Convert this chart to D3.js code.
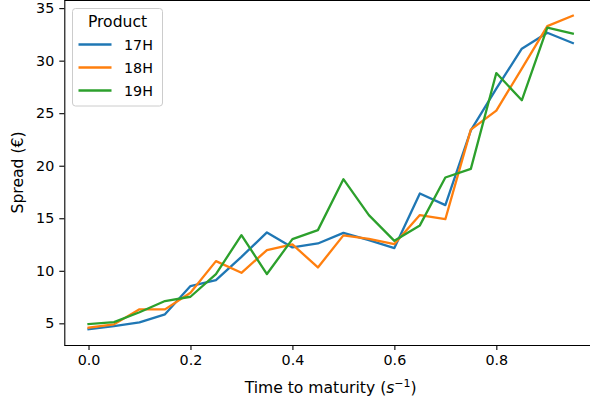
<!DOCTYPE html>
<html>
<head>
<meta charset="utf-8">
<script src="https://cdn.jsdelivr.net/npm/d3@7"></script>
<style>
  body { margin: 0; background: #fff; }
  text { font-family: "DejaVu Sans", sans-serif; }
</style>
</head>
<body>
<script>
var maturity = [0, 0.05, 0.1, 0.15, 0.2, 0.25, 0.3, 0.35, 0.4, 0.45,
                0.5, 0.55, 0.6, 0.65, 0.7, 0.75, 0.8, 0.85, 0.9, 0.95];
var products = ["17H", "18H", "19H"];
var spread17H = [4.43, 4.74, 5.09, 5.86, 8.55, 9.12, 11.33, 13.65, 12.22, 12.6,
                 13.61, 12.92, 12.16, 17.36, 16.25, 23.37, 27.33, 31.14, 32.66, 31.67];
var spread18H = [4.58, 4.9, 6.33, 6.33, 7.91, 10.92, 9.81, 11.97, 12.51, 10.32,
                 13.37, 13.04, 12.54, 15.3, 14.91, 23.44, 25.25, 29.24, 33.29, 34.28];
var spread19H = [4.93, 5.12, 6.05, 7.12, 7.53, 9.69, 13.39, 9.69, 13.01, 13.87,
                 18.72, 15.3, 12.85, 14.32, 18.88, 19.7, 28.82, 26.23, 33.14, 32.57];
var xTicks = [0, 0.2, 0.4, 0.6, 0.8];
var yTicks = [5, 10, 15, 20, 25, 30, 35];
var colors = ["#1f77b4", "#ff7f0e", "#2ca02c"];

var series = [spread17H, spread18H, spread19H];
var W = 590, H = 404;
var mLeft = 64.3, mRight = 597, mTop = 0, mBottom = 345;
var tickFont = "14.3px", labelFont = "15.6px";

var svg = d3.select(document.body).append("svg")
  .attr("width", W).attr("height", H);

var xmin = d3.min(maturity), xmax = d3.max(maturity);
var xm = (xmax - xmin) * 0.05;
var all = spread17H.concat(spread18H, spread19H);
var ymin = d3.min(all), ymax = d3.max(all);
var ym = (ymax - ymin) * 0.05;

var x = d3.scaleLinear().domain([xmin - xm, xmax + xm]).range([mLeft, mRight]);
var y = d3.scaleLinear().domain([ymin - ym, ymax + ym]).range([mBottom, mTop]);

var line = d3.line()
  .x(function(d, i) { return x(maturity[i]); })
  .y(function(d) { return y(d); });

svg.selectAll("path.series")
  .data(series)
  .enter().append("path")
  .attr("class", "series")
  .attr("d", line)
  .attr("fill", "none")
  .attr("stroke", function(d, i) { return colors[i]; })
  .attr("stroke-width", 2.3)
  .attr("stroke-linejoin", "round")
  .attr("stroke-linecap", "square");

var xAxis = svg.append("g")
  .attr("transform", "translate(0," + mBottom + ")")
  .call(d3.axisBottom(x).tickValues(xTicks).tickFormat(d3.format(".1f"))
    .tickSize(5).tickPadding(5).tickSizeOuter(0));
var yAxis = svg.append("g")
  .attr("transform", "translate(" + mLeft + ",0)")
  .call(d3.axisLeft(y).tickValues(yTicks).tickSize(5).tickPadding(5).tickSizeOuter(0));

[xAxis, yAxis].forEach(function(g) {
  g.select(".domain").attr("stroke", "#000").attr("stroke-width", 1.1);
  g.selectAll(".tick line").attr("stroke", "#000").attr("stroke-width", 1.1);
  g.selectAll(".tick text").attr("fill", "#000")
    .style("font-family", "DejaVu Sans").style("font-size", tickFont);
});
xAxis.select(".domain").attr("d", "M" + mLeft + ",0.5H" + W);

// top spine
svg.append("line")
  .attr("x1", mLeft).attr("x2", W).attr("y1", 0.5).attr("y2", 0.5)
  .attr("stroke", "#000").attr("stroke-width", 1.1);

// axis labels
var xl = svg.append("text")
  .attr("x", (mLeft + mRight) / 2).attr("y", 393)
  .attr("text-anchor", "middle")
  .style("font-size", labelFont);
xl.append("tspan").text("Time to maturity (");
xl.append("tspan").text("s").style("font-style", "italic");
xl.append("tspan").text("\u22121").attr("dy", -6.5).style("font-size", "11px");
xl.append("tspan").text(")").attr("dy", 6.5);

svg.append("text")
  .attr("transform", "translate(23," + (mTop + mBottom) / 2 + ") rotate(-90)")
  .attr("text-anchor", "middle")
  .style("font-size", labelFont)
  .text("Spread (\u20ac)");

// legend
var lg = svg.append("g").attr("transform", "translate(72.5,8.5)");
lg.append("rect")
  .attr("width", 90).attr("height", 97.5)
  .attr("rx", 3).attr("ry", 3)
  .attr("fill", "#fff").attr("fill-opacity", 0.8)
  .attr("stroke", "#ccc").attr("stroke-width", 1);
lg.append("text")
  .attr("x", 45).attr("y", 18.5)
  .attr("text-anchor", "middle")
  .style("font-size", labelFont)
  .text("Product");
var items = lg.selectAll("g.item")
  .data(products)
  .enter().append("g")
  .attr("class", "item")
  .attr("transform", function(d, i) { return "translate(0," + (36 + i * 23) + ")"; });
items.append("line")
  .attr("x1", 6).attr("x2", 39)
  .attr("stroke", function(d, i) { return colors[i]; })
  .attr("stroke-width", 2.3);
items.append("text")
  .attr("x", 51.5).attr("y", 5.5)
  .style("font-size", tickFont)
  .text(function(d) { return d; });
</script>
</body>
</html>
